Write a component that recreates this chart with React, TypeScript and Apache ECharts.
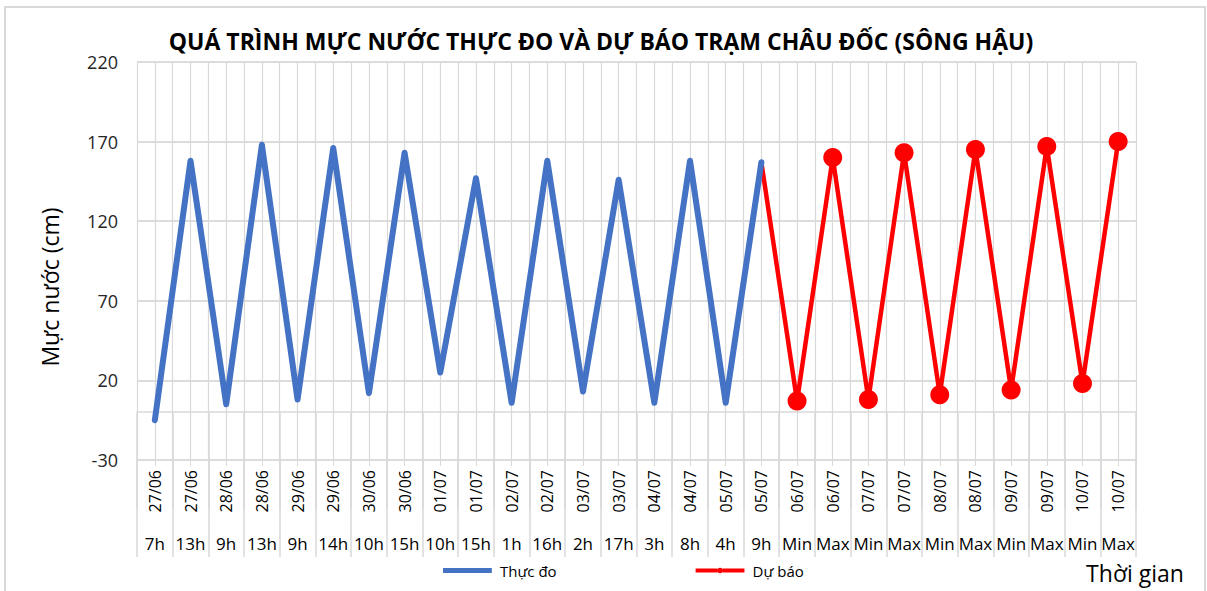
import React, { useEffect, useRef } from "react";
import * as echarts from "echarts";

const dates = ["27/06","27/06","28/06","28/06","29/06","29/06","30/06","30/06","01/07","01/07","02/07","02/07","03/07","03/07","04/07","04/07","05/07","05/07","06/07","06/07","07/07","07/07","08/07","08/07","09/07","09/07","10/07","10/07"];
const hours = ["7h","13h","9h","13h","9h","14h","10h","15h","10h","15h","1h","16h","2h","17h","3h","8h","4h","9h","Min","Max","Min","Max","Min","Max","Min","Max","Min","Max"];
const observed = [-5, 158, 5, 168, 8, 166, 12, 163, 25, 147, 6, 158, 13, 146, 6, 158, 6, 157];
const forecast = [157, 7, 160, 8, 163, 11, 165, 14, 167, 18, 170];
const yTicks = { min: -30, max: 220, interval: 50 };

const FONT = "'Open Sans', 'Noto Sans', sans-serif";

export default function App() {
  const ref = useRef<HTMLDivElement>(null);
  useEffect(() => {
    document.body.style.margin = "0";
    const chart = echarts.init(ref.current!, null, { renderer: "svg" });
    const n = dates.length;
    const obsData = dates.map((_, i) => (i < observed.length ? observed[i] : null));
    const start = n - forecast.length;
    const fcData = dates.map((_, i) => (i >= start ? { value: forecast[i - start], symbol: i === start ? "none" : "circle" } : null));
    const fine = Array.from({ length: n * 2 }, () => "");
    const cats = dates.map((d, i) => d + "|" + i);
    chart.setOption({
      animation: false,
      textStyle: { fontFamily: FONT },
      title: {
        text: "QUÁ TRÌNH MỰC NƯỚC THỰC ĐO VÀ DỰ BÁO TRẠM CHÂU ĐỐC (SÔNG HẬU)",
        left: 596,
        textAlign: "center",
        top: 24,
        textStyle: { fontFamily: FONT, fontSize: 23, fontWeight: "bold", color: "#000" },
      },
      legend: {
        left: 443,
        top: 563,
        padding: 0,
        itemWidth: 55,
        itemHeight: 8,
        itemGap: 139,
        textStyle: { fontFamily: FONT, fontSize: 15, color: "#000" },
        data: [
          { name: "Thực đo", icon: "path://M0,1.8h55v5.4H0z M0,0h0.01v0.01H0z M0,9h0.01v0.01H0z" },
          { name: "Dự báo", icon: "path://M0,2.2h24.6v4.6H0z M30.4,2.2h24.6v4.6H30.4z M24.5,4.5a3,3 0 1,0 6,0a3,3 0 1,0 -6,0z M0,0h0.01v0.01H0z M0,9h0.01v0.01H0z" },
        ],
      },
      grid: { left: 137, right: 71, top: 62, bottom: 131, containLabel: false },
      xAxis: [
        {
          type: "category",
          data: cats,
          boundaryGap: true,
          axisLine: { lineStyle: { color: "#d9d9d9", width: 1.5 } },
          axisTick: { show: true, interval: 0, length: 97, lineStyle: { color: "#d9d9d9", width: 1.5 } },
          axisLabel: {
            interval: 0,
            rotate: 90,
            margin: 10,
            fontSize: 16,
            color: "#000",
            fontFamily: FONT,
            formatter: (v: string) => v.split("|")[0],
          },
          splitLine: { show: false },
        },
        {
          type: "category",
          data: hours.map((h, i) => h + "|" + i),
          position: "bottom",
          boundaryGap: true,
          axisLine: { show: false },
          axisTick: { show: true, interval: 0, length: 97, lineStyle: { color: "#d9d9d9", width: 1.5 } },
          axisLabel: {
            interval: 0,
            margin: 75,
            fontSize: 17,
            color: "#000",
            fontFamily: FONT,
            formatter: (v: string) => v.split("|")[0],
          },
          splitLine: { show: false },
        },
        {
          type: "category",
          data: fine,
          position: "bottom",
          boundaryGap: true,
          axisLine: { show: false },
          axisTick: { show: true, interval: 0, length: 6, lineStyle: { color: "#d9d9d9" } },
          axisLabel: { show: false },
          splitLine: { show: true, interval: 0, lineStyle: { color: "#d9d9d9", width: 1.2 } },
        },
      ],
      yAxis: {
        type: "value",
        min: yTicks.min,
        max: yTicks.max,
        interval: yTicks.interval,
        axisLine: { show: false },
        axisTick: { show: false },
        axisLabel: { fontSize: 18, color: "#262626", margin: 19, fontFamily: FONT },
        splitLine: { lineStyle: { color: "#d0d0d0", width: 1.5 } },
      },
      series: [
        {
          name: "Dự báo",
          type: "line",
          xAxisIndex: 0,
          data: fcData,
          symbol: "circle",
          symbolSize: 19,
          connectNulls: false,
          lineStyle: { color: "#ff0000", width: 4.5 },
          itemStyle: { color: "#ff0000" },
          z: 2,
        },
        {
          name: "Thực đo",
          type: "line",
          xAxisIndex: 0,
          data: obsData,
          symbol: "none",
          showSymbol: false,
          lineStyle: { color: "#4472c4", width: 6, join: "round", cap: "round" },
          itemStyle: { color: "#4472c4" },
          z: 3,
        },
      ],
      graphic: [
        {
          type: "rect",
          shape: { x: 5, y: 7, width: 1200, height: 600 },
          style: { fill: "none", stroke: "#d9d9d9", lineWidth: 2 },
          silent: true,
        },
        {
          type: "text",
          x: 50,
          y: 287,
          rotation: Math.PI / 2,
          style: {
            text: "Mực nước (cm)",
            fontSize: 23,
            fontFamily: FONT,
            fill: "#000",
            align: "center",
            verticalAlign: "middle",
          },
        },
        {
          type: "text",
          x: 1135,
          y: 573,
          style: {
            text: "Thời gian",
            fontSize: 23,
            fontFamily: FONT,
            fill: "#000",
            align: "center",
            verticalAlign: "middle",
          },
        },
      ],
    });
    return () => chart.dispose();
  }, []);
  return <div ref={ref} style={{ position: "absolute", left: 0, top: 0, width: 1207, height: 591 }} />;
}
